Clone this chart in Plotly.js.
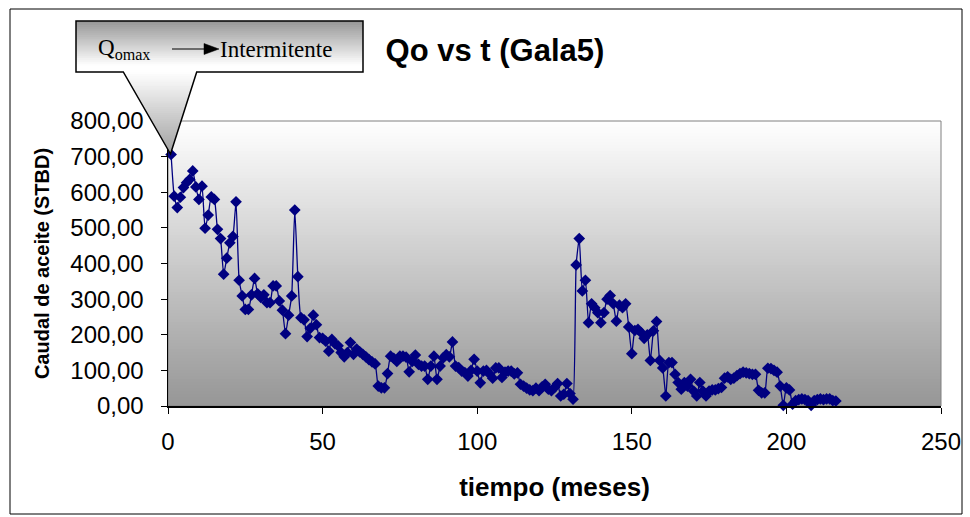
<!DOCTYPE html>
<html>
<head>
<meta charset="utf-8">
<script src="https://cdn.plot.ly/plotly-3.0.1.min.js"></script>
<style>html,body{margin:0;padding:0;background:#fff;}#chart{width:970px;height:517px;}</style>
</head>
<body>
<div id="chart"></div>
<script>
// ---- data (months, oil rate STBD) ----
const months = [1,2,3,4,5,6,7,8,9,10,11,12,13,14,15,16,17,18,19,20,21,22,23,24,25,26,27,28,29,30,
31,32,33,34,35,36,37,38,39,40,41,42,43,44,45,46,47,48,49,50,51,52,53,54,55,56,57,58,59,60,
61,62,63,64,65,66,67,68,69,70,71,72,73,74,75,76,77,78,79,80,81,82,83,84,85,86,87,88,89,90,
91,92,93,94,95,96,97,98,99,100,101,102,103,104,105,106,107,108,109,110,111,112,113,114,115,116,117,118,119,120,
121,122,123,124,125,126,127,128,129,130,131,132,133,134,135,136,137,138,139,140,141,142,143,144,145,146,147,148,149,150,
151,152,153,154,155,156,157,158,159,160,161,162,163,164,165,166,167,168,169,170,171,172,173,174,175,176,177,178,179,180,
181,182,183,184,185,186,187,188,189,190,191,192,193,194,195,196,197,198,199,200,201,202,203,204,205,206,207,208,209,210,
211,212,213,214,215,216];
const qo = [706,589,557,586,613,627,636,660,615,580,617,499,536,587,580,496,470,370,415,458,476,573,353,309,271,271,312,358,315,305,
312,290,290,337,337,295,269,203,255,309,550,363,248,242,195,218,255,228,192,190,182,154,187,175,169,150,138,150,178,145,
160,152,145,138,130,124,118,56,51,51,91,140,134,125,140,140,137,96,125,143,117,112,112,75,112,140,75,112,135,144,
138,180,112,108,98,94,84,100,131,98,65,98,100,90,78,107,107,80,95,98,98,90,93,61,56,50,45,43,50,43,
54,61,47,43,52,63,28,33,63,35,19,396,470,323,353,234,287,276,262,234,262,300,310,287,238,283,276,287,222,147,
212,215,206,190,200,128,211,237,128,107,28,122,122,89,66,47,66,56,75,42,28,66,42,28,42,45,45,49,52,78,
82,75,78,85,91,95,93,91,89,89,44,37,37,106,105,100,95,56,2,51,45,5,15,18,20,18,15,2,15,18,
20,18,20,20,15,14];
const xTicks = [0,50,100,150,200,250];
const yTicks = [0,100,200,300,400,500,600,700,800];

// ---- geometry helpers for decorations (pixel -> paper) ----
const W=970,H=517,ML=168,MR=29,MT=121,MB=111;
const PW=W-ML-MR, PH=H-MT-MB;
const px = x => (x-ML)/PW;
const py = y => (MT+PH-y)/PH;
const grey = v => { v=Math.round(v); return 'rgb('+v+','+v+','+v+')'; };

const shapes = [];
// plot-area vertical gradient (white -> grey)
const NB = 95;
for (let i=0;i<NB;i++){
  const c = 255 - (255-150)*(i+0.5)/NB;
  shapes.push({type:'rect',xref:'paper',yref:'paper',x0:0,x1:1,
    y0:1-(i+1)/NB-0.002,y1:1-i/NB,fillcolor:grey(c),line:{width:0},layer:'below'});
}
// plot-area frame (grey top/right)
shapes.push({type:'rect',xref:'paper',yref:'paper',x0:0,x1:1,y0:0,y1:1,
  line:{color:'#808080',width:1},fillcolor:'rgba(0,0,0,0)',layer:'below'});
// outer chart frame
shapes.push({type:'rect',xref:'paper',yref:'paper',x0:px(10),x1:px(962),y0:py(514),y1:py(9),
  line:{color:'#000',width:1},fillcolor:'rgba(0,0,0,0)',layer:'below'});

// callout gradient bands
const bx0=76,bx1=363,by0=21,by1=72, tipX=170.5, tipY=154, tl=123.3, tr=196.7;
const nb1=26;
for (let i=0;i<nb1;i++){
  const ya=by0+(by1-by0)*i/nb1, yb=by0+(by1-by0)*(i+1)/nb1+0.6;
  const c=150+(255-150)*Math.min(1,((i+0.5)/nb1)*1.15);
  shapes.push({type:'rect',xref:'paper',yref:'paper',x0:px(bx0),x1:px(bx1),y0:py(Math.min(yb,by1)),y1:py(ya),
    fillcolor:grey(c),line:{width:0}});
}
const nb2=40;
for (let i=0;i<nb2;i++){
  const fa=i/nb2, fb=Math.min(1,(i+1)/nb2+0.01);
  const ya=by1+(tipY-by1)*fa, yb=by1+(tipY-by1)*fb;
  const la=tl+(tipX-tl)*fa, ra=tr+(tipX-tr)*fa, lb=tl+(tipX-tl)*fb, rb=tr+(tipX-tr)*fb;
  const c=255-(255-160)*(i+0.5)/nb2;
  shapes.push({type:'path',xref:'paper',yref:'paper',
    path:'M'+px(la)+','+py(ya)+' L'+px(ra)+','+py(ya)+' L'+px(rb)+','+py(yb)+' L'+px(lb)+','+py(yb)+' Z',
    fillcolor:grey(c),line:{width:0}});
}
// callout outline
shapes.push({type:'path',xref:'paper',yref:'paper',
  path:'M'+px(bx0)+','+py(by0)+' L'+px(bx1)+','+py(by0)+' L'+px(bx1)+','+py(by1)+' L'+px(tr)+','+py(by1)+
       ' L'+px(tipX)+','+py(tipY)+' L'+px(tl)+','+py(by1)+' L'+px(bx0)+','+py(by1)+' Z',
  line:{color:'#000',width:1.5},fillcolor:'rgba(0,0,0,0)'});
// arrow inside callout
shapes.push({type:'line',xref:'paper',yref:'paper',x0:px(172),x1:px(207),y0:py(49),y1:py(49),line:{color:'#000',width:1.2}});
shapes.push({type:'path',xref:'paper',yref:'paper',
  path:'M'+px(204)+','+py(43.5)+' L'+px(219)+','+py(49)+' L'+px(204)+','+py(54.5)+' Z',
  fillcolor:'#000',line:{color:'#000',width:0.5}});

const annotations = [
  {xref:'paper',yref:'paper',x:px(96),y:py(49),xanchor:'left',yanchor:'middle',showarrow:false,
   text:'Q<sub>omax</sub>',font:{family:'Liberation Serif, Times New Roman, serif',size:23,color:'#000'}},
  {xref:'paper',yref:'paper',x:px(218),y:py(49),xanchor:'left',yanchor:'middle',showarrow:false,
   text:'Intermitente',font:{family:'Liberation Serif, Times New Roman, serif',size:23,color:'#000'}}
];

const trace = {
  x: months, y: qo, type:'scatter', mode:'lines+markers',
  line:{color:'#000080',width:1.3,shape:'spline',smoothing:0.5},
  marker:{symbol:'diamond',size:9,color:'#000080',line:{width:0}},
  hoverinfo:'skip', showlegend:false, cliponaxis:false
};

const tickFont = {family:'Liberation Sans, Arial, sans-serif',size:24,color:'#000'};
const layout = {
  width:W,height:H,
  margin:{l:ML,r:MR,t:MT,b:MB,pad:0},
  paper_bgcolor:'#fff',plot_bgcolor:'#fff',
  separators:',.',
  showlegend:false,
  title:{text:'<b>Qo vs t (Gala5)</b>',xref:'container',yref:'container',x:495/W,xanchor:'center',
         y:1-50/H,yanchor:'middle',font:{family:'Liberation Sans, Arial, sans-serif',size:31,color:'#000'}},
  xaxis:{range:[0,250],tickvals:xTicks,ticktext:xTicks.map(String),ticks:'outside',ticklen:6,tickcolor:'#000',
         showline:true,linecolor:'#000',linewidth:1.5,showgrid:false,zeroline:false,tickfont:tickFont,
         ticklabelstandoff:8,
         title:{text:'<b>tiempo (meses)</b>',font:{family:'Liberation Sans, Arial, sans-serif',size:26,color:'#000'},standoff:23}},
  yaxis:{range:[0,800],tickvals:yTicks,tickformat:'.2f',ticks:'outside',ticklen:6,tickcolor:'#000',
         showline:true,linecolor:'#000',linewidth:1.5,showgrid:false,zeroline:false,tickfont:tickFont,
         ticklabelstandoff:12,
         title:{text:'<b>Caudal de aceite (STBD)</b>',font:{family:'Liberation Sans, Arial, sans-serif',size:20,color:'#000'},standoff:15}},
  shapes:shapes, annotations:annotations
};

Plotly.newPlot('chart',[trace],layout,{displayModeBar:false,staticPlot:true});
</script>
</body>
</html>
